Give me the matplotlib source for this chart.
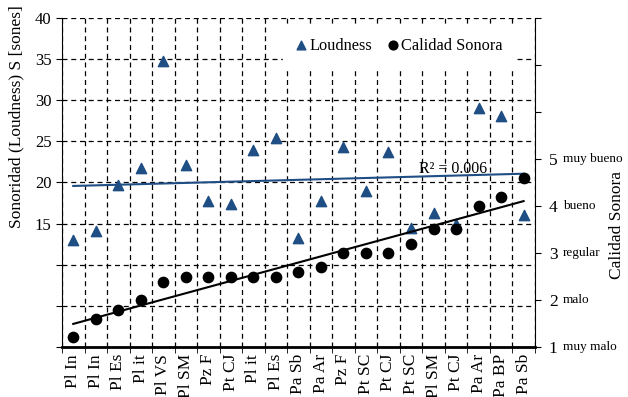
import numpy as np
import matplotlib.pyplot as plt
from matplotlib.ticker import FuncFormatter, FixedLocator

plt.rcParams['font.family'] = ['Liberation Serif', 'DejaVu Serif']

# data
categorias = ["Pl In", "Pl In", "Pl Es", "Pl it", "Pl VS", "Pl SM", "Pz F", "Pt CJ",
              "Pl it", "Pl Es", "Pa Sb", "Pa Ar", "Pz F", "Pt SC", "Pt CJ", "Pt SC",
              "Pl SM", "Pt CJ", "Pa Ar", "Pa BP", "Pa Sb"]
loudness = [13.0, 14.1, 19.7, 21.8, 34.7, 22.1, 17.7, 17.4, 23.9, 25.4, 13.2,
            17.7, 24.3, 18.9, 23.7, 14.4, 16.3, 15.0, 29.1, 28.1, 16.1]
calidad = [1.21, 1.6, 1.79, 2.0, 2.38, 2.49, 2.49, 2.49, 2.49, 2.49, 2.6,
           2.7, 3.0, 3.0, 3.0, 3.2, 3.5, 3.5, 4.0, 4.2, 4.6]
calidad_ticks = [1, 2, 3, 4, 5]
calidad_nombres = ["muy malo", "malo", "regular", "bueno", "muy bueno"]
r2_texto = "R² = 0.006"

azul = '#1F4E85'
x = np.arange(1, len(categorias) + 1)

fig = plt.figure(figsize=(6.28, 3.97), dpi=100)
ax = fig.add_axes([0.0987, 0.126, 0.753, 0.829])
ax2 = ax.twinx()

# loudness on the left axis
ax.scatter(x, loudness, marker='^', s=55, color=azul, zorder=3, label='Loudness')
p = np.polyfit(x, loudness, 1)
ax.plot(x, np.polyval(p, x), color=azul, lw=1.5, zorder=3)
ax.text(16.35, 21.2, r2_texto, fontsize=11.5, zorder=4)

ax.set_xlim(0.5, len(categorias) + 0.5)
ax.set_ylim(0, 40)
ax.set_yticks(np.arange(0, 41, 5))
ax.yaxis.set_major_formatter(FuncFormatter(lambda v, pos: f"{v:.0f}" if v >= 15 else ""))
ax.set_xticks(x)
ax.set_xticklabels(categorias, rotation=90, fontsize=12.5)
ax.tick_params(axis='x', length=0, pad=5)
ax.xaxis.set_minor_locator(FixedLocator(np.arange(0.5, len(categorias) + 1, 1)))
ax.tick_params(axis='x', which='minor', length=4, direction='out')
ax.tick_params(axis='y', labelsize=12, length=4, direction='out')
ax.grid(True, which='minor', axis='x', color='black', ls=(0, (4, 3)), lw=0.9)
ax.grid(True, which='major', axis='y', color='black', ls=(0, (4, 3)), lw=0.9)
ax.spines['top'].set_visible(False)
ax.spines['right'].set_visible(False)
ax.spines['bottom'].set_linewidth(2)

# calidad sonora on the right axis
ax2.scatter(x, calidad, marker='o', s=55, color='black', zorder=3, label='Calidad Sonora')
q = np.polyfit(x, calidad, 1)
ax2.plot(x, np.polyval(q, x), color='black', lw=1.5, zorder=3)
ax2.set_ylim(1, 8)
ax2.set_yticks(np.arange(1, 9, 1))
ax2.yaxis.set_major_formatter(FuncFormatter(lambda v, pos: f"{v:.0f}" if v <= 5 else ""))
ax2.tick_params(axis='y', labelsize=12.5, length=4, direction='out', pad=6)
ax2.spines['top'].set_visible(False)
ax2.spines['left'].set_visible(False)
for t, nombre in zip(calidad_ticks, calidad_nombres):
    ax2.text(1.060, t, nombre, transform=ax2.get_yaxis_transform(),
             fontsize=9.5, va='center', ha='left')

fig.text(0.026, 1 - 117 / 397, "Sonoridad (Loudness) S [sones]", rotation=90,
         fontsize=12.5, ha='center', va='center')
fig.text(0.982, 1 - 225 / 397, "Calidad Sonora", rotation=90,
         fontsize=12.5, ha='center', va='center')

h1, l1 = ax.get_legend_handles_labels()
h2, l2 = ax2.get_legend_handles_labels()
leg = ax2.legend(h1 + h2, l1 + l2, loc='upper left', bbox_to_anchor=(0.45, 1.005),
                 ncol=2, fontsize=11.8, frameon=True, fancybox=False, edgecolor='white',
                 handlelength=0.6, handletextpad=0.2, columnspacing=1.0,
                 borderpad=0.8, markerscale=0.85)
leg.get_frame().set_alpha(1)
leg.set_zorder(5)

fig.savefig('out.png', dpi=100)
